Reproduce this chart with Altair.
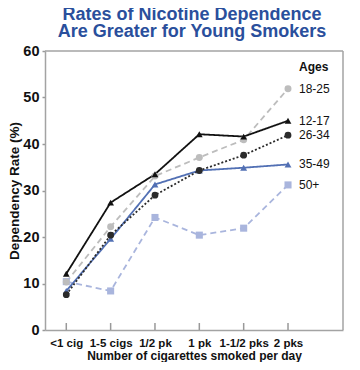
import json
import altair as alt
import pandas as pd

categories = ["<1 cig", "1-5 cigs", "1/2 pk", "1 pk", "1-1/2 pks", "2 pks"]
ages = ["50+", "18-25", "35-49", "26-34", "12-17"]
values = {
    "12-17": [12.1, 27.4, 33.5, 42.1, 41.6, 45.0],
    "18-25": [10.3, 22.2, 33.1, 37.1, 40.9, 51.9],
    "26-34": [7.6, 20.4, 29.0, 34.3, 37.6, 41.9],
    "35-49": [8.4, 19.6, 31.3, 34.3, 34.9, 35.6],
    "50+":   [10.4, 8.4, 24.2, 20.4, 21.9, 31.2],
}
colors = ["#a9b5dd", "#bdbdbd", "#5270b4", "#2b2b2b", "#111111"]
point_colors = ["#a9b5dd", "#c4c4c4", "#5270b4", "#333333", "#111111"]
dashes = [[6, 4], [6, 4], [1, 0], [2, 2], [1, 0]]
shapes = ["square", "circle", "triangle-up", "circle", "triangle-up"]
sizes = [50, 45, 35, 40, 35]
widths = [1.8, 1.8, 1.5, 1.5, 1.5]

x_domain = [-0.48, 6.24]
y_domain = [0, 60]

rows = []
for a in ages:
    for i, v in enumerate(values[a]):
        rows.append({"age": a, "idx": i, "cat": categories[i], "rate": v})
df = pd.DataFrame(rows)
last = df[df["idx"] == len(categories) - 1]
ticks_df = pd.DataFrame({"idx": list(range(len(categories))), "t0": [0.0] * 6, "t1": [1.5] * 6})
legend_title = pd.DataFrame({"idx": [5], "rate": [56.6], "label": ["Ages"]})
top_df = pd.DataFrame({"x0": [x_domain[0]], "x1": [x_domain[1]], "yv": [y_domain[1]]})
right_df = pd.DataFrame({"xv": [x_domain[1]], "y0": [y_domain[0]], "y1": [y_domain[1]]})

label_expr = json.dumps(categories) + "[datum.value]"

xscale = alt.Scale(domain=x_domain, nice=False, zero=False)
yscale = alt.Scale(domain=y_domain, nice=False)

x_enc = alt.X(
    "idx:Q", scale=xscale,
    axis=alt.Axis(
        values=list(range(len(categories))), labelExpr=label_expr,
        title="Number of cigarettes smoked per day", grid=False, domain=True,
        domainColor="#a3a3a3", domainWidth=1.5,
        ticks=False, labelFontSize=11.5, labelFontWeight="bold", labelColor="#111",
        labelFont="Liberation Sans", labelPadding=7, titleFont="Liberation Sans",
        titleFontSize=12, titleFontWeight="bold", titleColor="#111", titlePadding=2,
    ),
)
y_enc = alt.Y(
    "rate:Q", scale=yscale,
    axis=alt.Axis(
        values=list(range(0, 61, 10)), title="Dependency Rate (%)", grid=False,
        domain=True, domainColor="#a3a3a3", domainWidth=1.5,
        tickSize=3, tickColor="#999999", tickWidth=1.5, labelFontSize=14.5,
        labelFontWeight="bold", labelColor="#111", labelFont="Liberation Sans",
        labelPadding=3, titleFont="Liberation Sans", titleFontSize=13.5,
        titleFontWeight="bold", titleColor="#111", titlePadding=1,
    ),
)

lines = alt.Chart(df).mark_line().encode(
    x=x_enc, y=y_enc,
    color=alt.Color("age:N", scale=alt.Scale(domain=ages, range=colors), legend=None),
    strokeDash=alt.StrokeDash("age:N", scale=alt.Scale(domain=ages, range=dashes), legend=None),
    strokeWidth=alt.StrokeWidth("age:N", scale=alt.Scale(domain=ages, range=widths), legend=None),
    order=alt.Order("idx:Q"),
    detail="age:N",
)

points = alt.Chart(df).mark_point(filled=True, opacity=1).encode(
    x="idx:Q", y="rate:Q",
    color=alt.Color("age:N", scale=alt.Scale(domain=ages, range=point_colors), legend=None),
    shape=alt.Shape("age:N", scale=alt.Scale(domain=ages, range=shapes), legend=None),
    size=alt.Size("age:N", scale=alt.Scale(domain=ages, range=sizes), legend=None),
)

labels = alt.Chart(last).mark_text(
    align="left", baseline="middle", dx=11, fontSize=12, font="Liberation Sans", color="#111"
).encode(x="idx:Q", y="rate:Q", text="age:N")

ages_title = alt.Chart(legend_title).mark_text(
    align="left", baseline="middle", dx=11, fontSize=12, fontWeight="bold",
    font="Liberation Sans", color="#111"
).encode(x="idx:Q", y="rate:Q", text="label:N")

xticks = alt.Chart(ticks_df).mark_rule(color="#999999", strokeWidth=1.5, opacity=1).encode(
    x="idx:Q", y="t0:Q", y2="t1:Q"
)

top_edge = alt.Chart(top_df).mark_rule(color="#a3a3a3", strokeWidth=1.5, opacity=1).encode(
    x="x0:Q", x2="x1:Q", y="yv:Q"
)
right_edge = alt.Chart(right_df).mark_rule(color="#a3a3a3", strokeWidth=1.5, opacity=1).encode(
    x="xv:Q", y="y0:Q", y2="y1:Q"
)

chart = alt.layer(lines, top_edge, right_edge, xticks, points, labels, ages_title).properties(
    width=298, height=279,
    autosize=alt.AutoSizeParams(type="none"),
    padding={"left": 37, "top": 43, "right": 8, "bottom": 32},
    background="white",
    title=alt.TitleParams(
        ["Rates of Nicotine Dependence", "Are Greater for Young Smokers"],
        fontSize=18, font="Liberation Sans", fontWeight="bold", color="#2a4f9c",
        anchor="middle", lineHeight=17, offset=2, frame="group", dx=-2,
    ),
).configure_view(stroke=None)

chart.save("out.html", embed_options={"renderer": "svg", "actions": False})
